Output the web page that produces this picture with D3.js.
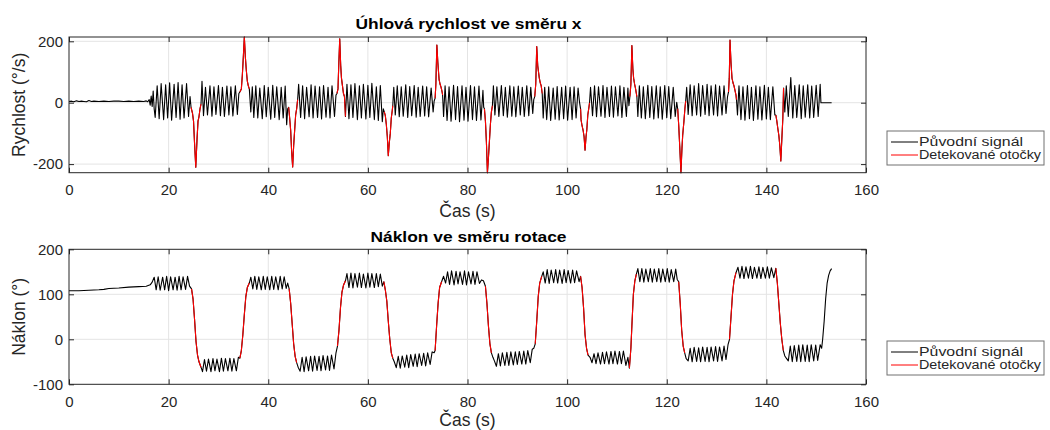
<!DOCTYPE html>
<html>
<head>
<meta charset="utf-8">
<script src="https://cdn.jsdelivr.net/npm/d3@7"></script>
<style>
  body { margin: 0; background: #fff; }
  text { font-family: "Liberation Sans", Arial, sans-serif; fill: #262626; }
</style>
</head>
<body>
<svg id="chart" width="1050" height="430"></svg>
<script>
// ---- data -------------------------------------------------------------
const xTicks = [0, 20, 40, 60, 80, 100, 120, 140, 160];
const rateTicks = [-200, 0, 200];
const tiltTicks = [-100, 0, 100, 200];
const legendLabels = ["Původní signál", "Detekované otočky"];

// detected turns: [start, end] in seconds
const turnWindows = [
  [24.4, 26.5], [34.2, 36.3], [44.0, 45.9], [53.7, 55.6], [63.2, 65.0],
  [73.4, 75.0], [83.3, 85.0], [93.4, 95.0], [102.6, 104.5], [112.5, 114.0],
  [122.2, 123.8], [132.4, 134.0], [141.9, 143.5]
];

// angular velocity around x [time s, deg/s]
const rateSignal = [
  [0,4],[0.5,5],[1,3],[1.5,6],[2,4],[2.5,5],[3,4],[3.5,3],[4,7],[4.5,4],[5,5],[6,4],[7,5],[8,4],[9,5],[10,5],[11,4],[12,5],[13,4],[14,5],[15,4],[15.5,6],[15.8,3],
  [16.1,10],[16.3,-8],[16.5,22],[16.7,-12],[16.9,38],[17.1,-20],[17.3,-48],[17.7,55],[18.1,-52],[18.5,62],[19.0,-55],[19.4,58],[19.8,-50],[20.2,65],[20.6,-57],[21.1,60],[21.5,-48],[21.9,66],[22.3,-54],[22.7,58],[23.1,-50],[23.6,62],[24.0,-45],[24.3,20],
  [24.5,-15],[24.8,-35],[25.0,-60],[25.2,-130],[25.45,-210],[25.7,-120],[25.9,-60],[26.1,-45],[26.3,-20],[26.5,-5],
  [26.7,70],[27.0,-42],[27.4,50],[27.8,-40],[28.3,55],[28.7,-44],[29.1,52],[29.5,-38],[30.0,56],[30.4,-42],[30.8,50],[31.2,-45],[31.7,54],[32.1,-40],[32.5,52],[32.9,-43],[33.4,55],[33.8,-38],[34.1,30],
  [34.3,35],[34.6,45],[34.8,90],[35.0,150],[35.2,214],[35.4,150],[35.6,105],[35.8,70],[36.0,55],[36.2,45],
  [36.5,-30],[36.8,52],[37.1,-48],[37.5,55],[37.9,-50],[38.3,48],[38.8,-52],[39.2,56],[39.6,-46],[40.0,50],[40.5,-54],[40.9,57],[41.3,-48],[41.7,52],[42.2,-55],[42.6,50],[43.0,-50],[43.4,54],[43.7,-72],[43.9,-20],
  [44.1,-15],[44.3,-50],[44.5,-90],[44.7,-160],[44.9,-209],[45.1,-140],[45.3,-90],[45.5,-40],[45.7,-20],[45.9,10],
  [46.1,60],[46.5,-48],[46.9,55],[47.3,-52],[47.7,50],[48.2,-46],[48.6,58],[49.0,-50],[49.4,54],[49.9,-48],[50.3,52],[50.7,-53],[51.1,56],[51.6,-47],[52.0,50],[52.4,-50],[52.8,55],[53.3,-45],[53.6,25],
  [53.8,30],[54.0,45],[54.15,120],[54.35,208],[54.55,120],[54.7,80],[54.9,55],[55.1,30],[55.3,20],
  [55.5,-45],[55.8,60],[56.2,-52],[56.6,58],[57.0,-48],[57.4,62],[57.9,-55],[58.3,55],[58.7,-50],[59.1,60],[59.6,-53],[60.0,57],[60.4,-48],[60.8,63],[61.3,-55],[61.7,52],[62.1,-58],[62.5,56],[62.9,-62],[63.1,-20],
  [63.3,-30],[63.5,-42],[63.7,-70],[63.9,-110],[64.1,-173],[64.3,-130],[64.5,-100],[64.7,-50],[64.9,-25],[65.0,-10],
  [65.2,50],[65.5,-40],[65.9,55],[66.3,-46],[66.7,52],[67.1,-44],[67.6,58],[68.0,-48],[68.4,53],[68.8,-42],[69.3,56],[69.7,-47],[70.1,50],[70.5,-45],[71.0,54],[71.4,-43],[71.8,52],[72.2,-46],[72.7,48],[73.1,-30],[73.3,5],
  [73.5,15],[73.65,60],[73.85,188],[74.05,130],[74.3,75],[74.5,60],[74.7,50],[74.9,35],[75.0,25],
  [75.2,-45],[75.5,55],[75.9,-58],[76.3,52],[76.7,-60],[77.2,57],[77.6,-55],[78.0,53],[78.4,-62],[78.9,55],[79.3,-57],[79.7,50],[80.1,-60],[80.6,56],[81.0,-55],[81.4,52],[81.8,-58],[82.3,54],[82.7,-56],[83.1,40],[83.25,-15],
  [83.4,-20],[83.6,-60],[83.8,-130],[84.0,-228],[84.2,-180],[84.4,-126],[84.6,-70],[84.8,-30],[85.0,-10],
  [85.2,55],[85.5,-40],[85.9,52],[86.3,-45],[86.8,56],[87.2,-42],[87.6,50],[88.0,-47],[88.5,55],[88.9,-44],[89.3,52],[89.7,-46],[90.2,54],[90.6,-40],[91.0,50],[91.4,-45],[91.9,55],[92.3,-42],[92.7,50],[93.1,-35],[93.3,10],
  [93.5,20],[93.7,60],[93.9,183],[94.1,120],[94.4,82],[94.6,65],[94.8,55],[95.0,30],
  [95.2,-50],[95.5,50],[95.9,-55],[96.3,52],[96.7,-58],[97.2,48],[97.6,-54],[98.0,53],[98.4,-56],[98.9,50],[99.3,-52],[99.7,54],[100.1,-57],[100.6,50],[101.0,-55],[101.4,52],[101.8,-50],[102.2,48],[102.5,0],
  [102.7,-20],[102.8,-56],[103.0,-75],[103.2,-89],[103.4,-110],[103.6,-155],[103.8,-110],[103.95,-89],[104.15,-40],[104.35,-18],[104.5,0],
  [104.7,50],[105.1,-42],[105.5,55],[105.9,-46],[106.3,52],[106.8,-44],[107.2,56],[107.6,-48],[108.0,50],[108.5,-45],[108.9,54],[109.3,-47],[109.7,52],[110.2,-43],[110.6,55],[111.0,-48],[111.4,50],[111.9,-45],[112.2,48],[112.4,-10],
  [112.6,20],[112.8,60],[113.0,186],[113.2,110],[113.35,80],[113.55,60],[113.7,49],[113.9,30],[114.0,20],
  [114.2,-45],[114.5,55],[114.9,-50],[115.3,52],[115.7,-52],[116.2,57],[116.6,-48],[117.0,53],[117.4,-53],[117.9,55],[118.3,-50],[118.7,52],[119.1,-54],[119.6,56],[120.0,-49],[120.4,53],[120.8,-52],[121.3,50],[121.7,-45],[122.0,1],
  [122.2,-20],[122.4,-73],[122.6,-140],[122.85,-228],[123.05,-150],[123.2,-106],[123.45,-60],[123.65,-18],[123.8,5],
  [124.0,50],[124.3,-38],[124.7,58],[125.1,-42],[125.5,55],[126.0,-40],[126.4,62],[126.8,-44],[127.2,56],[127.7,-38],[128.1,60],[128.5,-42],[128.9,55],[129.4,-40],[129.8,58],[130.2,-43],[130.6,54],[131.1,-40],[131.5,55],[131.9,-35],[132.2,20],
  [132.4,35],[132.55,80],[132.7,204],[132.9,130],[133.1,80],[133.3,65],[133.5,55],[133.7,40],[133.9,25],[134.0,10],
  [134.2,-40],[134.5,55],[134.9,-55],[135.3,52],[135.7,-57],[136.2,56],[136.6,-52],[137.0,50],[137.4,-58],[137.9,55],[138.3,-54],[138.7,52],[139.1,-56],[139.6,57],[140.0,-53],[140.4,50],[140.8,-55],[141.3,52],[141.7,-40],
  [141.9,-40],[142.1,-60],[142.3,-84],[142.5,-106],[142.7,-140],[142.9,-190],[143.1,-120],[143.3,-52],[143.45,48],
  [143.7,-30],[144.0,55],[144.4,-45],[144.9,82],[145.3,-50],[145.7,56],[146.1,-48],[146.6,58],[147.0,-52],[147.4,55],[147.8,-47],[148.3,58],[148.7,-50],[149.1,54],[149.5,-48],[150.0,57],[150.4,-45],[150.8,60],[150.95,0],
  [151.5,0],[152.0,0],[152.5,0],[153.1,0]
];

// tilt in the direction of rotation [time s, deg]
const tiltSignal = [
  [0,108],[2,108],[4,109],[6,110],[7,111],[8,113],[10,114],[12,116],[14,117],[15.5,118],[16.3,121],[16.7,127],[17.1,138],
  [17.5,110],[17.9,139],[18.3,109],[18.8,138],[19.2,110],[19.6,140],[20.0,108],[20.4,139],[20.9,110],[21.3,138],[21.7,109],[22.1,140],[22.5,110],[22.9,139],[23.4,111],[23.8,140],[24.2,118],
  [24.6,112],[24.9,90],[25.2,45],[25.5,-5],[25.8,-35],[26.1,-50],[26.5,-62],
  [26.8,-72],[27.2,-45],[27.6,-71],[28.0,-44],[28.5,-72],[28.9,-43],[29.3,-70],[29.7,-44],[30.2,-72],[30.6,-42],[31.0,-71],[31.4,-43],[31.9,-70],[32.3,-42],[32.7,-71],[33.1,-43],[33.6,-70],[34.0,-40],
  [34.3,-42],[34.6,-25],[34.9,10],[35.2,55],[35.5,95],[35.8,115],[36.2,125],[36.5,138],
  [36.9,112],[37.3,140],[37.7,111],[38.1,139],[38.6,110],[39.0,140],[39.4,111],[39.8,139],[40.3,110],[40.7,140],[41.1,111],[41.5,139],[42.0,110],[42.4,140],[42.8,112],[43.2,139],[43.6,113],[43.9,125],
  [44.2,112],[44.5,80],[44.8,35],[45.1,-10],[45.4,-38],[45.7,-52],[46.0,-62],
  [46.4,-71],[46.8,-40],[47.2,-72],[47.6,-39],[48.1,-70],[48.5,-38],[48.9,-71],[49.3,-37],[49.8,-69],[50.2,-38],[50.6,-70],[51.0,-36],[51.5,-68],[51.9,-37],[52.3,-69],[52.7,-35],[53.2,-66],[53.6,-30],
  [53.9,-15],[54.2,20],[54.5,70],[54.8,105],[55.1,120],[55.5,130],[55.8,146],
  [56.2,115],[56.6,147],[57.0,114],[57.4,146],[57.9,116],[58.3,147],[58.7,115],[59.1,145],[59.6,114],[60.0,147],[60.4,116],[60.8,146],[61.3,115],[61.7,146],[62.1,117],[62.5,145],[62.9,118],[63.2,128],
  [63.5,110],[63.8,85],[64.1,40],[64.4,0],[64.7,-30],[65.0,-42],[65.3,-50],
  [65.7,-63],[66.1,-38],[66.5,-64],[66.9,-37],[67.4,-62],[67.8,-35],[68.2,-63],[68.6,-34],[69.1,-60],[69.5,-33],[69.9,-61],[70.3,-32],[70.8,-58],[71.2,-31],[71.6,-59],[72.0,-30],[72.5,-56],[72.9,-28],[73.3,-30],
  [73.5,-25],[73.8,30],[74.1,80],[74.4,115],[74.8,128],[75.2,140],
  [75.6,125],[76.0,150],[76.4,122],[76.8,152],[77.3,121],[77.7,151],[78.1,123],[78.5,150],[79.0,122],[79.4,152],[79.8,121],[80.2,150],[80.7,123],[81.1,151],[81.5,122],[81.9,150],[82.4,124],[82.8,132],[83.2,130],
  [83.6,118],[83.9,80],[84.2,30],[84.5,-10],[84.8,-30],[85.1,-40],[85.4,-48],
  [85.8,-60],[86.2,-32],[86.6,-59],[87.0,-30],[87.5,-58],[87.9,-29],[88.3,-58],[88.7,-28],[89.2,-57],[89.6,-28],[90.0,-56],[90.4,-27],[90.9,-55],[91.3,-26],[91.7,-55],[92.1,-25],[92.6,-52],[93.0,-22],[93.3,-20],
  [93.6,-10],[93.9,40],[94.2,95],[94.5,125],[94.9,140],[95.2,150],
  [95.6,125],[96.0,155],[96.4,124],[96.8,154],[97.3,126],[97.7,155],[98.1,125],[98.5,154],[99.0,124],[99.4,155],[99.8,126],[100.2,153],[100.7,125],[101.1,154],[101.5,126],[101.9,152],[102.4,128],[102.7,140],
  [103.0,115],[103.3,70],[103.6,10],[103.9,-20],[104.2,-35],[104.6,-40],
  [105.0,-52],[105.4,-32],[105.8,-54],[106.2,-30],[106.7,-55],[107.1,-29],[107.5,-54],[107.9,-28],[108.4,-55],[108.8,-27],[109.2,-54],[109.6,-26],[110.1,-55],[110.5,-27],[110.9,-54],[111.3,-26],[111.8,-58],[112.2,-40],[112.5,-64],
  [112.8,-20],[113.0,30],[113.3,100],[113.6,130],[113.9,145],[114.2,157],
  [114.6,128],[115.0,157],[115.4,127],[115.8,156],[116.3,128],[116.7,157],[117.1,127],[117.5,156],[118.0,128],[118.4,157],[118.8,127],[119.2,156],[119.7,128],[120.1,157],[120.5,127],[120.9,155],[121.4,128],[121.8,156],[122.1,133],
  [122.4,128],[122.7,80],[123.0,20],[123.3,-15],[123.6,-30],[123.9,-43],
  [124.3,-48],[124.7,-20],[125.1,-50],[125.5,-18],[126.0,-49],[126.4,-19],[126.8,-50],[127.2,-17],[127.7,-49],[128.1,-18],[128.5,-50],[128.9,-17],[129.4,-48],[129.8,-16],[130.2,-49],[130.6,-17],[131.1,-48],[131.5,-15],[131.9,-45],[132.3,-12],
  [132.6,0],[132.9,50],[133.2,100],[133.5,130],[133.9,148],[134.3,160],
  [134.7,136],[135.1,162],[135.5,135],[135.9,161],[136.4,136],[136.8,162],[137.2,135],[137.6,160],[138.1,136],[138.5,161],[138.9,135],[139.3,160],[139.8,136],[140.2,161],[140.6,136],[141.0,159],[141.5,137],[141.9,158],
  [142.2,125],[142.5,80],[142.8,35],[143.1,0],[143.4,-25],[143.7,-37],[144.0,-42],
  [144.4,-48],[144.8,-15],[145.2,-50],[145.6,-14],[146.1,-49],[146.5,-13],[146.9,-50],[147.3,-12],[147.8,-49],[148.2,-13],[148.6,-50],[149.0,-12],[149.5,-48],[149.9,-13],[150.3,-47],[150.8,-12],[151.1,-20],
  [151.3,0],[151.6,40],[151.9,90],[152.2,125],[152.5,142],[152.8,152],[153.1,157]
];

// ---- layout -----------------------------------------------------------
const svg = d3.select("#chart");
const left = 69, right = 866;
const x = d3.scaleLinear().domain([0, 160]).range([left, right]);

const panels = [
  { title: "Úhlová rychlost ve směru x", titleWidth: 226, ylabel: "Rychlost (°/s)",
    data: rateSignal, yDomain: d3.extent(rateSignal, d => d[1]), yTicks: rateTicks,
    top: 37, bottom: 172.7, titleY: 29, tickLabelPad: 11.5, xlabelY: 217, legendY: 131 },
  { title: "Náklon ve směru rotace", titleWidth: 196, ylabel: "Náklon (°)",
    data: tiltSignal, yDomain: [-100, 200], yTicks: tiltTicks,
    top: 249.3, bottom: 384.3, titleY: 242, tickLabelPad: 12.5, xlabelY: 426, legendY: 341 }
];

const axisColor = "#262626";
const gridColor = "#e4e4e4";
const red = "#ff0000";
const legendTextWidths = [104, 122];

panels.forEach(p => {
  const y = d3.scaleLinear().domain(p.yDomain).range([p.bottom, p.top]);
  const g = svg.append("g");

  // grid
  g.append("g").selectAll("line")
    .data(xTicks.filter(t => t > 0 && t < 160)).join("line")
    .attr("x1", d => x(d)).attr("x2", d => x(d))
    .attr("y1", p.top).attr("y2", p.bottom)
    .attr("stroke", gridColor).attr("stroke-width", 1);
  g.append("g").selectAll("line")
    .data(p.yTicks.filter(t => y(t) > p.top + 1 && y(t) < p.bottom - 1)).join("line")
    .attr("x1", left).attr("x2", right)
    .attr("y1", d => y(d)).attr("y2", d => y(d))
    .attr("stroke", gridColor).attr("stroke-width", 1);

  const line = d3.line().x(d => x(d[0])).y(d => y(d[1]));

  // original signal
  g.append("path").datum(p.data)
    .attr("d", line).attr("fill", "none")
    .attr("stroke", "#000").attr("stroke-width", 1.1).attr("stroke-linejoin", "round");

  // detected turns
  turnWindows.forEach(([a, b]) => {
    const seg = p.data.filter(d => d[0] >= a && d[0] <= b);
    g.append("path").datum(seg)
      .attr("d", line).attr("fill", "none")
      .attr("stroke", red).attr("stroke-width", 1.1).attr("stroke-linejoin", "round");
  });

  // axes with inward ticks on all four sides
  const fmt = d => String(d);
  const ax = [
    g.append("g").attr("transform", `translate(0,${p.bottom})`)
      .call(d3.axisBottom(x).tickValues(xTicks).tickSize(-5).tickPadding(p.tickLabelPad).tickFormat(fmt)),
    g.append("g").attr("transform", `translate(0,${p.top})`)
      .call(d3.axisTop(x).tickValues(xTicks).tickSize(-5).tickFormat("")),
    g.append("g").attr("transform", `translate(${left},0)`)
      .call(d3.axisLeft(y).tickValues(p.yTicks).tickSize(-5).tickPadding(6).tickFormat(fmt)),
    g.append("g").attr("transform", `translate(${right},0)`)
      .call(d3.axisRight(y).tickValues(p.yTicks).tickSize(-5).tickFormat(""))
  ];
  ax.forEach(a => {
    a.select(".domain").remove();
    a.selectAll(".tick line").attr("stroke", axisColor);
    a.selectAll(".tick text").attr("fill", axisColor)
      .style("font-family", "'Liberation Sans', Arial, sans-serif").style("font-size", "15px");
  });

  // plot box
  g.append("rect").attr("x", left).attr("y", p.top)
    .attr("width", right - left).attr("height", p.bottom - p.top)
    .attr("fill", "none").attr("stroke", axisColor).attr("stroke-width", 1);

  // title and axis labels
  g.append("text").attr("x", (left + right) / 2 + 1).attr("y", p.titleY)
    .attr("text-anchor", "middle").style("font-size", "15.5px").style("font-weight", "bold")
    .attr("textLength", p.titleWidth).attr("lengthAdjust", "spacingAndGlyphs")
    .style("fill", "#000").text(p.title);
  g.append("text").attr("x", (left + right) / 2).attr("y", p.xlabelY)
    .attr("text-anchor", "middle").style("font-size", "17.5px").text("Čas (s)");
  g.append("text")
    .attr("transform", `translate(19,${(p.top + p.bottom) / 2}) rotate(-90)`)
    .attr("text-anchor", "middle").attr("dy", "0.35em")
    .style("font-size", "17.5px").text(p.ylabel);

  // legend
  const lg = g.append("g").attr("transform", `translate(887,${p.legendY})`);
  lg.append("rect").attr("x", 0).attr("y", 0).attr("width", 157).attr("height", 34)
    .attr("fill", "#fff").attr("stroke", "#707070").attr("stroke-width", 1);
  legendLabels.forEach((lab, i) => {
    const ly = 11 + i * 13;
    lg.append("line").attr("x1", 4).attr("x2", 31).attr("y1", ly).attr("y2", ly)
      .attr("stroke", i === 0 ? "#000" : red).attr("stroke-width", 1);
    lg.append("text").attr("x", 32).attr("y", ly).attr("dy", "0.35em")
      .attr("textLength", legendTextWidths[i]).attr("lengthAdjust", "spacingAndGlyphs")
      .style("font-size", "12.5px").text(lab);
  });
});
</script>
</body>
</html>
